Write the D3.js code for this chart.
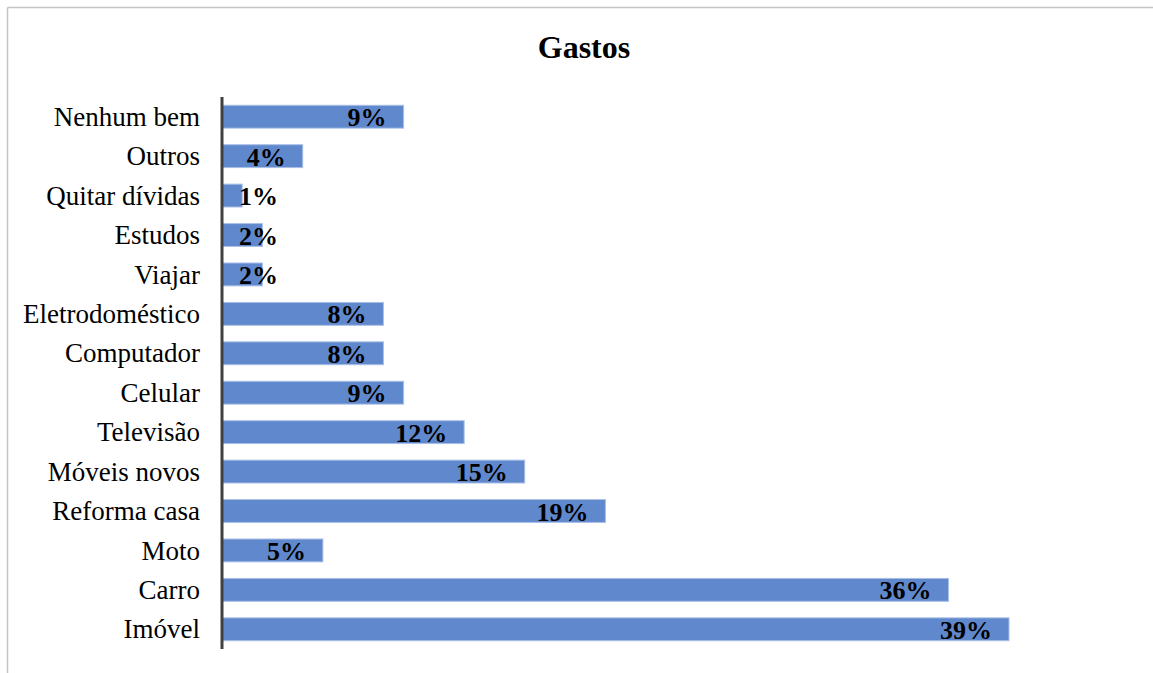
<!DOCTYPE html>
<html>
<head>
<meta charset="utf-8">
<script src="https://cdn.jsdelivr.net/npm/d3@7"></script>
<style>
  html, body { margin: 0; padding: 0; background: #fff; }
  svg { display: block; }
</style>
</head>
<body>
<svg id="chart" width="1153" height="673"></svg>
<script>
// Categories from top to bottom, with their shares in percent
const categories = ["Nenhum bem", "Outros", "Quitar dívidas", "Estudos", "Viajar",
  "Eletrodoméstico", "Computador", "Celular", "Televisão", "Móveis novos",
  "Reforma casa", "Moto", "Carro", "Imóvel"];
const values = [9, 4, 1, 2, 2, 8, 8, 9, 12, 15, 19, 5, 36, 39];
const chartTitle = "Gastos";

const svg = d3.select("#chart");
const W = 1153, H = 673;
const font = "'Liberation Serif', 'Times New Roman', serif";

// Frame lines
svg.append("line").attr("x1", 7.5).attr("x2", W).attr("y1", 7.5).attr("y2", 7.5)
  .attr("stroke", "#c4c4c4").attr("stroke-width", 1.5);
svg.append("line").attr("x1", 7.5).attr("x2", 7.5).attr("y1", 7.5).attr("y2", H)
  .attr("stroke", "#c4c4c4").attr("stroke-width", 1.5);

// Title
svg.append("text")
  .attr("x", 584).attr("y", 58)
  .attr("text-anchor", "middle")
  .attr("font-family", font)
  .attr("font-weight", "bold")
  .attr("font-size", 32)
  .attr("fill", "#000")
  .text(chartTitle);

const x0 = 222;
const x = d3.scaleLinear().domain([0, 39]).range([x0, 1009]);
const y = d3.scaleBand().domain(categories).range([97, 649]).paddingInner(0.42).paddingOuter(0.21);

// Bars
svg.append("g").selectAll("rect")
  .data(categories)
  .join("rect")
  .attr("x", x(0))
  .attr("y", d => y(d))
  .attr("width", (d, i) => x(values[i]) - x(0))
  .attr("height", y.bandwidth())
  .attr("fill", "#6088cd")
  .attr("stroke", "#a9bfe6")
  .attr("stroke-width", 1);

// Category axis
const yAxis = d3.axisLeft(y).tickSize(0).tickPadding(22);
const ag = svg.append("g").attr("transform", `translate(${x0},0)`).call(yAxis);
ag.attr("font-family", font).attr("font-size", 27);
ag.select(".domain").remove();
ag.selectAll("text")
  .attr("font-family", font)
  .attr("font-size", 27)
  .attr("fill", "#000")
  .attr("dy", "0.34em");

svg.append("line")
  .attr("x1", x0).attr("x2", x0).attr("y1", 97).attr("y2", 649)
  .attr("stroke", "#404040").attr("stroke-width", 3);

// Value labels, right-aligned inside the bar end
const labels = svg.append("g").selectAll("text")
  .data(categories)
  .join("text")
  .attr("font-family", font)
  .attr("font-weight", "bold")
  .attr("font-size", 26)
  .attr("fill", "#000")
  .attr("y", d => y(d) + y.bandwidth() / 2 + 9.5)
  .text((d, i) => values[i] + "%");

labels.each(function(d, i) {
  const w = this.getComputedTextLength();
  const end = Math.max(x(values[i]) - 17, 239 + w);
  d3.select(this).attr("x", end).attr("text-anchor", "end");
});
</script>
</body>
</html>
